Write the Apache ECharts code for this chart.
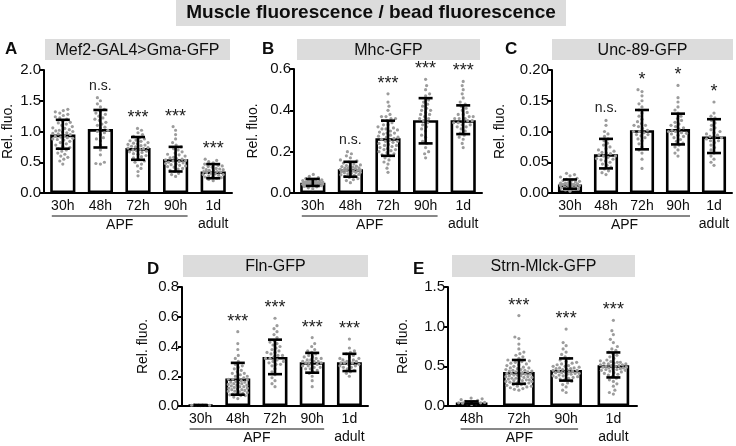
<!DOCTYPE html>
<html><head><meta charset="utf-8">
<script src="https://cdn.jsdelivr.net/npm/echarts@6/dist/echarts.min.js"></script>
<style>html,body{margin:0;padding:0;background:#fff}#c{width:736px;height:446px}</style>
</head><body><div id="c"></div><script>
// ---------- DATA ----------
const catsA = ['30h','48h','72h','90h','1d\nadult'];
const meanA = [0.95, 1.04, 0.73, 0.55, 0.35];
const lowA  = [0.72, 0.74, 0.54, 0.35, 0.24];
const highA = [1.19, 1.35, 0.91, 0.75, 0.47];
const sigA  = ['', 'n.s.', '***', '***', '***'];
const dotsA = [
 [0.47,0.52,0.55,0.58,0.6,0.63,0.65,0.68,0.7,0.72,0.74,0.76,0.78,0.8,0.82,0.84,0.86,0.87,0.88,0.9,0.91,0.92,0.93,0.95,0.96,0.97,0.98,1.0,1.01,1.02,1.03,1.05,1.06,1.08,1.1,1.12,1.14,1.15,1.17,1.2,1.22,1.24,1.26,1.28,1.3,1.32,1.34,1.36,0.89,0.99],
 [0.47,0.48,0.5,0.62,0.7,0.78,0.85,0.9,0.95,0.98,1.0,1.02,1.05,1.07,1.1,1.12,1.15,1.18,1.2,1.22,1.25,1.28,1.3,1.33,1.36,1.4,1.45,1.5,1.55,0.88],
 [0.28,0.35,0.4,0.44,0.47,0.5,0.52,0.55,0.57,0.59,0.61,0.63,0.64,0.66,0.67,0.68,0.7,0.71,0.72,0.73,0.74,0.75,0.76,0.77,0.78,0.8,0.81,0.82,0.84,0.85,0.86,0.88,0.9,0.92,0.95,0.98,1.02,1.05,0.69,0.79],
 [0.27,0.3,0.32,0.35,0.37,0.39,0.4,0.42,0.43,0.45,0.46,0.47,0.48,0.5,0.51,0.52,0.53,0.54,0.55,0.56,0.57,0.58,0.6,0.62,0.63,0.65,0.67,0.7,0.72,0.75,0.78,0.82,0.88,0.95,1.02,1.08,0.49,0.44],
 [0.2,0.22,0.24,0.25,0.26,0.27,0.28,0.29,0.3,0.31,0.32,0.33,0.34,0.35,0.35,0.36,0.37,0.38,0.39,0.4,0.41,0.42,0.43,0.44,0.45,0.47,0.49,0.51,0.53,0.55,0.3,0.38]
];

const catsB = ['30h','48h','72h','90h','1d\nadult'];
const meanB = [0.05, 0.115, 0.265, 0.352, 0.352];
const lowB  = [0.034, 0.079, 0.18, 0.24, 0.285];
const highB = [0.068, 0.151, 0.35, 0.459, 0.424];
const sigB  = ['', 'n.s.', '***', '***', '***'];
const dotsB = [
 [0.02,0.025,0.03,0.032,0.035,0.037,0.04,0.04,0.042,0.044,0.045,0.046,0.047,0.048,0.05,0.05,0.051,0.052,0.053,0.055,0.056,0.058,0.06,0.062,0.064,0.066,0.07,0.074,0.08,0.09,0.043,0.049,0.054,0.057,0.039],
 [0.05,0.06,0.065,0.07,0.075,0.08,0.085,0.088,0.09,0.093,0.095,0.098,0.1,0.102,0.104,0.106,0.108,0.11,0.112,0.114,0.116,0.118,0.12,0.122,0.125,0.128,0.13,0.133,0.136,0.14,0.145,0.15,0.155,0.16,0.17,0.18,0.19,0.2,0.11,0.1,0.12,0.13],
 [0.1,0.12,0.14,0.15,0.16,0.17,0.18,0.185,0.19,0.195,0.2,0.205,0.21,0.215,0.22,0.225,0.23,0.235,0.24,0.245,0.25,0.255,0.26,0.265,0.27,0.275,0.28,0.285,0.29,0.295,0.3,0.305,0.31,0.315,0.32,0.33,0.34,0.35,0.36,0.37,0.38,0.4,0.42,0.44,0.48,0.25,0.27,0.29,0.31,0.35,0.36,0.37,0.23,0.21,0.33],
 [0.17,0.19,0.2,0.22,0.24,0.25,0.27,0.28,0.3,0.31,0.32,0.33,0.34,0.35,0.36,0.37,0.38,0.39,0.4,0.41,0.42,0.43,0.44,0.45,0.47,0.48,0.5,0.52,0.55,0.38,0.36,0.4],
 [0.22,0.24,0.26,0.27,0.28,0.29,0.3,0.31,0.32,0.33,0.33,0.34,0.34,0.35,0.35,0.36,0.36,0.37,0.37,0.38,0.38,0.39,0.4,0.41,0.42,0.43,0.44,0.46,0.48,0.5,0.52,0.54,0.32,0.35,0.36]
];

const catsC = ['30h','48h','72h','90h','1d\nadult'];
const meanC = [0.014, 0.063, 0.102, 0.104, 0.092];
const lowC  = [0.007, 0.040, 0.071, 0.079, 0.065];
const highC = [0.022, 0.088, 0.135, 0.129, 0.120];
const sigC  = ['', 'n.s.', '*', '*', '*'];
const dotsC = [
 [0.003,0.005,0.006,0.007,0.008,0.009,0.01,0.011,0.012,0.012,0.013,0.014,0.014,0.015,0.016,0.017,0.018,0.019,0.02,0.021,0.022,0.024,0.026,0.028,0.03,0.032,0.013,0.011,0.016,0.015],
 [0.03,0.033,0.036,0.039,0.042,0.045,0.047,0.05,0.052,0.054,0.056,0.058,0.06,0.062,0.064,0.066,0.068,0.07,0.072,0.075,0.078,0.081,0.085,0.088,0.092,0.096,0.1,0.11,0.118,0.06,0.055,0.065],
 [0.04,0.055,0.065,0.07,0.075,0.08,0.085,0.088,0.09,0.093,0.095,0.098,0.1,0.102,0.105,0.108,0.11,0.113,0.116,0.12,0.125,0.13,0.135,0.14,0.145,0.15,0.158,0.165,0.168,0.1,0.095,0.11],
 [0.06,0.065,0.07,0.075,0.078,0.081,0.084,0.087,0.09,0.092,0.094,0.096,0.098,0.1,0.102,0.104,0.106,0.108,0.11,0.112,0.115,0.118,0.121,0.125,0.13,0.135,0.14,0.148,0.155,0.175,0.1,0.097],
 [0.045,0.05,0.055,0.06,0.065,0.07,0.074,0.078,0.082,0.085,0.088,0.09,0.092,0.094,0.096,0.098,0.1,0.103,0.106,0.11,0.114,0.118,0.122,0.125,0.13,0.148,0.09,0.085]
];

const catsD = ['30h','48h','72h','90h','1d\nadult'];
const meanD = [0.005, 0.185, 0.33, 0.294, 0.294];
const lowD  = [0.003, 0.076, 0.214, 0.224, 0.235];
const highD = [0.007, 0.29, 0.446, 0.357, 0.351];
const sigD  = ['', '***', '***', '***', '***'];
const dotsD = [
 [0.003,0.004,0.005,0.005,0.006,0.007,0.004,0.006],
 [0.05,0.06,0.07,0.075,0.08,0.085,0.09,0.095,0.1,0.105,0.11,0.115,0.12,0.125,0.13,0.135,0.14,0.145,0.15,0.155,0.16,0.165,0.17,0.175,0.18,0.185,0.19,0.2,0.21,0.22,0.23,0.24,0.25,0.26,0.27,0.28,0.3,0.32,0.34,0.38,0.42,0.5,0.08,0.1,0.12,0.14,0.16,0.18,0.2,0.22,0.13,0.15,0.11,0.07],
 [0.13,0.15,0.17,0.19,0.21,0.23,0.25,0.27,0.28,0.29,0.3,0.31,0.32,0.33,0.34,0.35,0.36,0.37,0.38,0.39,0.4,0.41,0.42,0.43,0.44,0.46,0.48,0.5,0.52,0.54,0.59,0.3,0.32,0.34,0.36,0.28],
 [0.13,0.17,0.2,0.22,0.23,0.24,0.25,0.26,0.27,0.27,0.28,0.28,0.29,0.29,0.3,0.3,0.31,0.31,0.32,0.32,0.33,0.34,0.35,0.36,0.37,0.38,0.4,0.42,0.46,0.26,0.3,0.33,0.25,0.29],
 [0.2,0.22,0.23,0.24,0.25,0.26,0.27,0.27,0.28,0.28,0.29,0.29,0.3,0.3,0.31,0.31,0.32,0.33,0.34,0.35,0.36,0.37,0.39,0.45,0.29,0.3,0.26,0.32]
];

const catsE = ['48h','72h','90h','1d\nadult'];
const meanE = [0.044, 0.43, 0.455, 0.515];
const lowE  = [0.03, 0.28, 0.32, 0.36];
const highE = [0.058, 0.58, 0.60, 0.675];
const sigE  = ['', '***', '***', '***'];
const dotsE = [
 [0.02,0.03,0.035,0.04,0.045,0.05,0.055,0.06,0.07,0.08,0.09,0.1,0.03,0.04],
 [0.2,0.21,0.22,0.23,0.24,0.25,0.26,0.27,0.28,0.29,0.3,0.31,0.32,0.33,0.34,0.35,0.36,0.37,0.38,0.39,0.4,0.41,0.42,0.43,0.44,0.45,0.46,0.47,0.48,0.49,0.5,0.51,0.52,0.53,0.54,0.55,0.56,0.57,0.58,0.6,0.62,0.64,0.66,0.68,0.72,0.78,0.85,0.87,1.14,0.3,0.32,0.34,0.36,0.38,0.4,0.42,0.44,0.46,0.48,0.35,0.37,0.39,0.41,0.43,0.45,0.33,0.31,0.27,0.25],
 [0.17,0.2,0.24,0.27,0.29,0.31,0.33,0.34,0.35,0.36,0.37,0.38,0.39,0.4,0.41,0.42,0.43,0.44,0.45,0.46,0.47,0.48,0.49,0.5,0.51,0.52,0.53,0.54,0.55,0.56,0.58,0.6,0.62,0.65,0.68,0.72,0.76,0.8,0.97,0.38,0.4,0.42,0.44,0.46,0.48,0.5,0.41,0.43,0.45,0.47,0.36],
 [0.15,0.17,0.2,0.25,0.28,0.31,0.33,0.35,0.37,0.39,0.4,0.41,0.42,0.43,0.44,0.45,0.46,0.47,0.48,0.49,0.5,0.51,0.52,0.53,0.54,0.55,0.56,0.57,0.58,0.6,0.62,0.64,0.66,0.68,0.7,0.72,0.75,0.8,0.84,0.9,0.95,1.08,0.45,0.47,0.49,0.51,0.53,0.55,0.5,0.52,0.48,0.46,0.54]
];

const panelTitles = ['Mef2-GAL4>Gma-GFP','Mhc-GFP','Unc-89-GFP','Fln-GFP','Strn-Mlck-GFP'];
const panelLetters = ['A','B','C','D','E'];
const yMax = [2.0, 0.6, 0.20, 0.8, 1.5];
const yStep = [0.5, 0.2, 0.05, 0.2, 0.5];
const yDec = [1, 1, 2, 1, 1];
const apfSpan = [[0,3],[0,3],[0,3],[0,3],[0,2]];
const yName = 'Rel. fluo.';
const mainTitle = 'Muscle fluorescence / bead fluorescence';

// ---------- LAYOUT ----------
const FONT = '"Liberation Sans", Arial, Helvetica, sans-serif';
const INK = '#0d0d0d';
const grids = [
  {left:41, top:70, width:191, height:123},
  {left:294, top:69, width:188, height:124},
  {left:552, top:70, width:180, height:123},
  {left:182, top:287, width:186, height:126},
  {left:448, top:287, width:189, height:125}
];
const nameGaps = [29, 34, 45, 32, 38];
const boxes = [
  {x:45, y:39, w:185, h:21},
  {x:297, y:39, w:183, h:21},
  {x:552, y:39, w:181, h:21},
  {x:183, y:255, w:185, h:22},
  {x:452, y:255, w:183, h:22}
];
const letterPos = [[5,41],[262,41],[505,41],[147,261],[413,261]];

const panels = [
  {cats:catsA, mean:meanA, low:lowA, high:highA, sig:sigA, dots:dotsA},
  {cats:catsB, mean:meanB, low:lowB, high:highB, sig:sigB, dots:dotsB},
  {cats:catsC, mean:meanC, low:lowC, high:highC, sig:sigC, dots:dotsC},
  {cats:catsD, mean:meanD, low:lowD, high:highD, sig:sigD, dots:dotsD},
  {cats:catsE, mean:meanE, low:lowE, high:highE, sig:sigE, dots:dotsE}
];

function swarm(ys, d, maxHalf) {
  const order = ys.map((y, i) => i).sort((a, b) => ys[b] - ys[a]);
  const xs = new Array(ys.length);
  const placed = [];
  const step = 0.5;
  let flip = 1;
  for (const i of order) {
    const y = ys[i];
    const near = placed.filter(p => Math.abs(p[1] - y) < d);
    let chosen = null, bestX = 0, bestGap = -1;
    for (let k = 0; k * step <= maxHalf; k++) {
      const opts = k === 0 ? [0] : [flip * k * step, -flip * k * step];
      for (const x of opts) {
        let minGap = Infinity;
        for (const p of near) {
          const g = Math.hypot(p[0] - x, p[1] - y);
          if (g < minGap) minGap = g;
        }
        if (minGap >= d) { chosen = x; break; }
        if (minGap > bestGap) { bestGap = minGap; bestX = x; }
      }
      if (chosen !== null) break;
    }
    if (chosen === null) chosen = bestX;
    flip = -flip;
    xs[i] = chosen;
    placed.push([chosen, y]);
  }
  return xs;
}

const grid = [], xAxis = [], yAxis = [], series = [];
panels.forEach((p, i) => {
  grid.push(Object.assign({containLabel:false}, grids[i]));
  xAxis.push({
    type:'category', gridIndex:i, data:p.cats,
    axisLine:{lineStyle:{color:'#000', width:2}},
    axisTick:{show:false},
    axisLabel:{color:INK, fontSize:14, fontFamily:FONT, margin:4, lineHeight:18, interval:0}
  });
  yAxis.push({
    type:'value', gridIndex:i, min:0, max:yMax[i], interval:yStep[i],
    name:yName, nameLocation:'middle', nameGap:nameGaps[i],
    nameTextStyle:{color:INK, fontSize:14, fontFamily:FONT},
    axisLine:{show:true, lineStyle:{color:'#000', width:2}},
    axisTick:{show:true, length:4, lineStyle:{color:'#000', width:2}},
    axisLabel:{color:INK, fontSize:15, fontFamily:FONT, margin:3,
      formatter: v => v.toFixed(yDec[i])},
    splitLine:{show:false}
  });
  // bars
  series.push({
    type:'bar', xAxisIndex:i, yAxisIndex:i, data:p.mean, barWidth:'67%', z:2,
    itemStyle:{color:'#fff', borderColor:'#000', borderWidth:2.6},
    silent:true
  });
  // dots (beeswarm layout computed from library coordinates)
  const dotData = [];
  p.dots.forEach((arr, ci) => arr.forEach(v => dotData.push([ci, v])));
  let cache = null;
  series.push({
    type:'custom', xAxisIndex:i, yAxisIndex:i, z:3, data:dotData, silent:true,
    renderItem(params, api) {
      if (params.dataIndexInside === 0 || !cache) {
        cache = {};
        const band = api.size([1, 0])[0];
        const half = band * 0.67 / 2 - 2.5;
        p.dots.forEach((arr, ci) => {
          const ys = arr.map(v => api.coord([ci, v])[1]);
          cache[ci] = swarm(ys, 4.2, half);
        });
        cache.idx = {};
        let k = 0;
        p.dots.forEach((arr, ci) => arr.forEach((v, j) => { cache.idx[k++] = [ci, j]; }));
      }
      const ci = api.value(0), v = api.value(1);
      const [c, j] = cache.idx[params.dataIndex];
      const pt = api.coord([ci, v]);
      return {type:'circle', shape:{cx:pt[0] + cache[c][j], cy:pt[1], r:1.6},
              style:{fill:'#9c9c9c'}};
    }
  });
  // error bars
  series.push({
    type:'custom', xAxisIndex:i, yAxisIndex:i, z:4, silent:true,
    data:p.cats.map((c, ci) => [ci, p.low[ci], p.high[ci]]),
    renderItem(params, api) {
      const ci = api.value(0);
      const lo = api.coord([ci, api.value(1)]);
      const hi = api.coord([ci, api.value(2)]);
      const w = 7;
      const st = {stroke:'#000', lineWidth:2.6};
      return {type:'group', children:[
        {type:'line', shape:{x1:lo[0], y1:lo[1], x2:hi[0], y2:hi[1]}, style:st},
        {type:'line', shape:{x1:lo[0]-w, y1:lo[1], x2:lo[0]+w, y2:lo[1]}, style:st},
        {type:'line', shape:{x1:hi[0]-w, y1:hi[1], x2:hi[0]+w, y2:hi[1]}, style:st}
      ]};
    }
  });
  // significance labels above highest dot
  series.push({
    type:'custom', xAxisIndex:i, yAxisIndex:i, z:5, silent:true,
    data:p.cats.map((c, ci) => [ci, Math.max.apply(null, p.dots[ci])]),
    renderItem(params, api) {
      const ci = api.value(0);
      const s = p.sig[ci];
      if (!s) return null;
      const pt = api.coord([ci, api.value(1)]);
      const star = s.indexOf('*') >= 0;
      return {type:'text', x:pt[0], y:pt[1] - (star ? 10 : 12),
        style:{text:s, fill:'#222', font:(star ? '18px ' : '14px ') + FONT,
               align:'center', verticalAlign:'middle'}};
    }
  });
  // APF underline + label
  series.push({
    type:'custom', xAxisIndex:i, yAxisIndex:i, z:5, silent:true,
    data:[[apfSpan[i][0], apfSpan[i][1]]],
    renderItem(params, api) {
      const a = api.coord([api.value(0), 0]);
      const b = api.coord([api.value(1), 0]);
      const y = a[1] + 23;
      return {type:'group', children:[
        {type:'line', shape:{x1:a[0]-11, y1:y, x2:b[0]+12, y2:y}, style:{stroke:'#111', lineWidth:1}},
        {type:'text', x:(a[0]-11 + b[0]+12)/2, y:a[1]+32,
          style:{text:'APF', fill:INK, font:'14px ' + FONT, align:'center', verticalAlign:'middle'}}
      ]};
    }
  });
});

const graphic = [
  {type:'rect', left:176, top:0, shape:{width:390, height:26}, style:{fill:'#dcdcdc'}, z:0},
  {type:'text', x:371, y:13, style:{text:mainTitle, font:'bold 19px ' + FONT, fill:INK, align:'center', verticalAlign:'middle'}, z:1}
];
boxes.forEach((b, i) => {
  graphic.push({type:'rect', left:b.x, top:b.y, shape:{width:b.w, height:b.h}, style:{fill:'#dcdcdc'}, z:0});
  graphic.push({type:'text', x:b.x + b.w/2, y:b.y + b.h/2 + 1, style:{text:panelTitles[i], font:'16px ' + FONT, fill:INK, align:'center', verticalAlign:'middle'}, z:1});
  graphic.push({type:'text', x:letterPos[i][0], y:letterPos[i][1], style:{text:panelLetters[i], font:'bold 17px ' + FONT, fill:INK, align:'left', verticalAlign:'top'}, z:1});
});

const chart = echarts.init(document.getElementById('c'), null, {renderer:'canvas'});
chart.setOption({animation:false, backgroundColor:'#fff', grid, xAxis, yAxis, series, graphic});
</script></body></html>
